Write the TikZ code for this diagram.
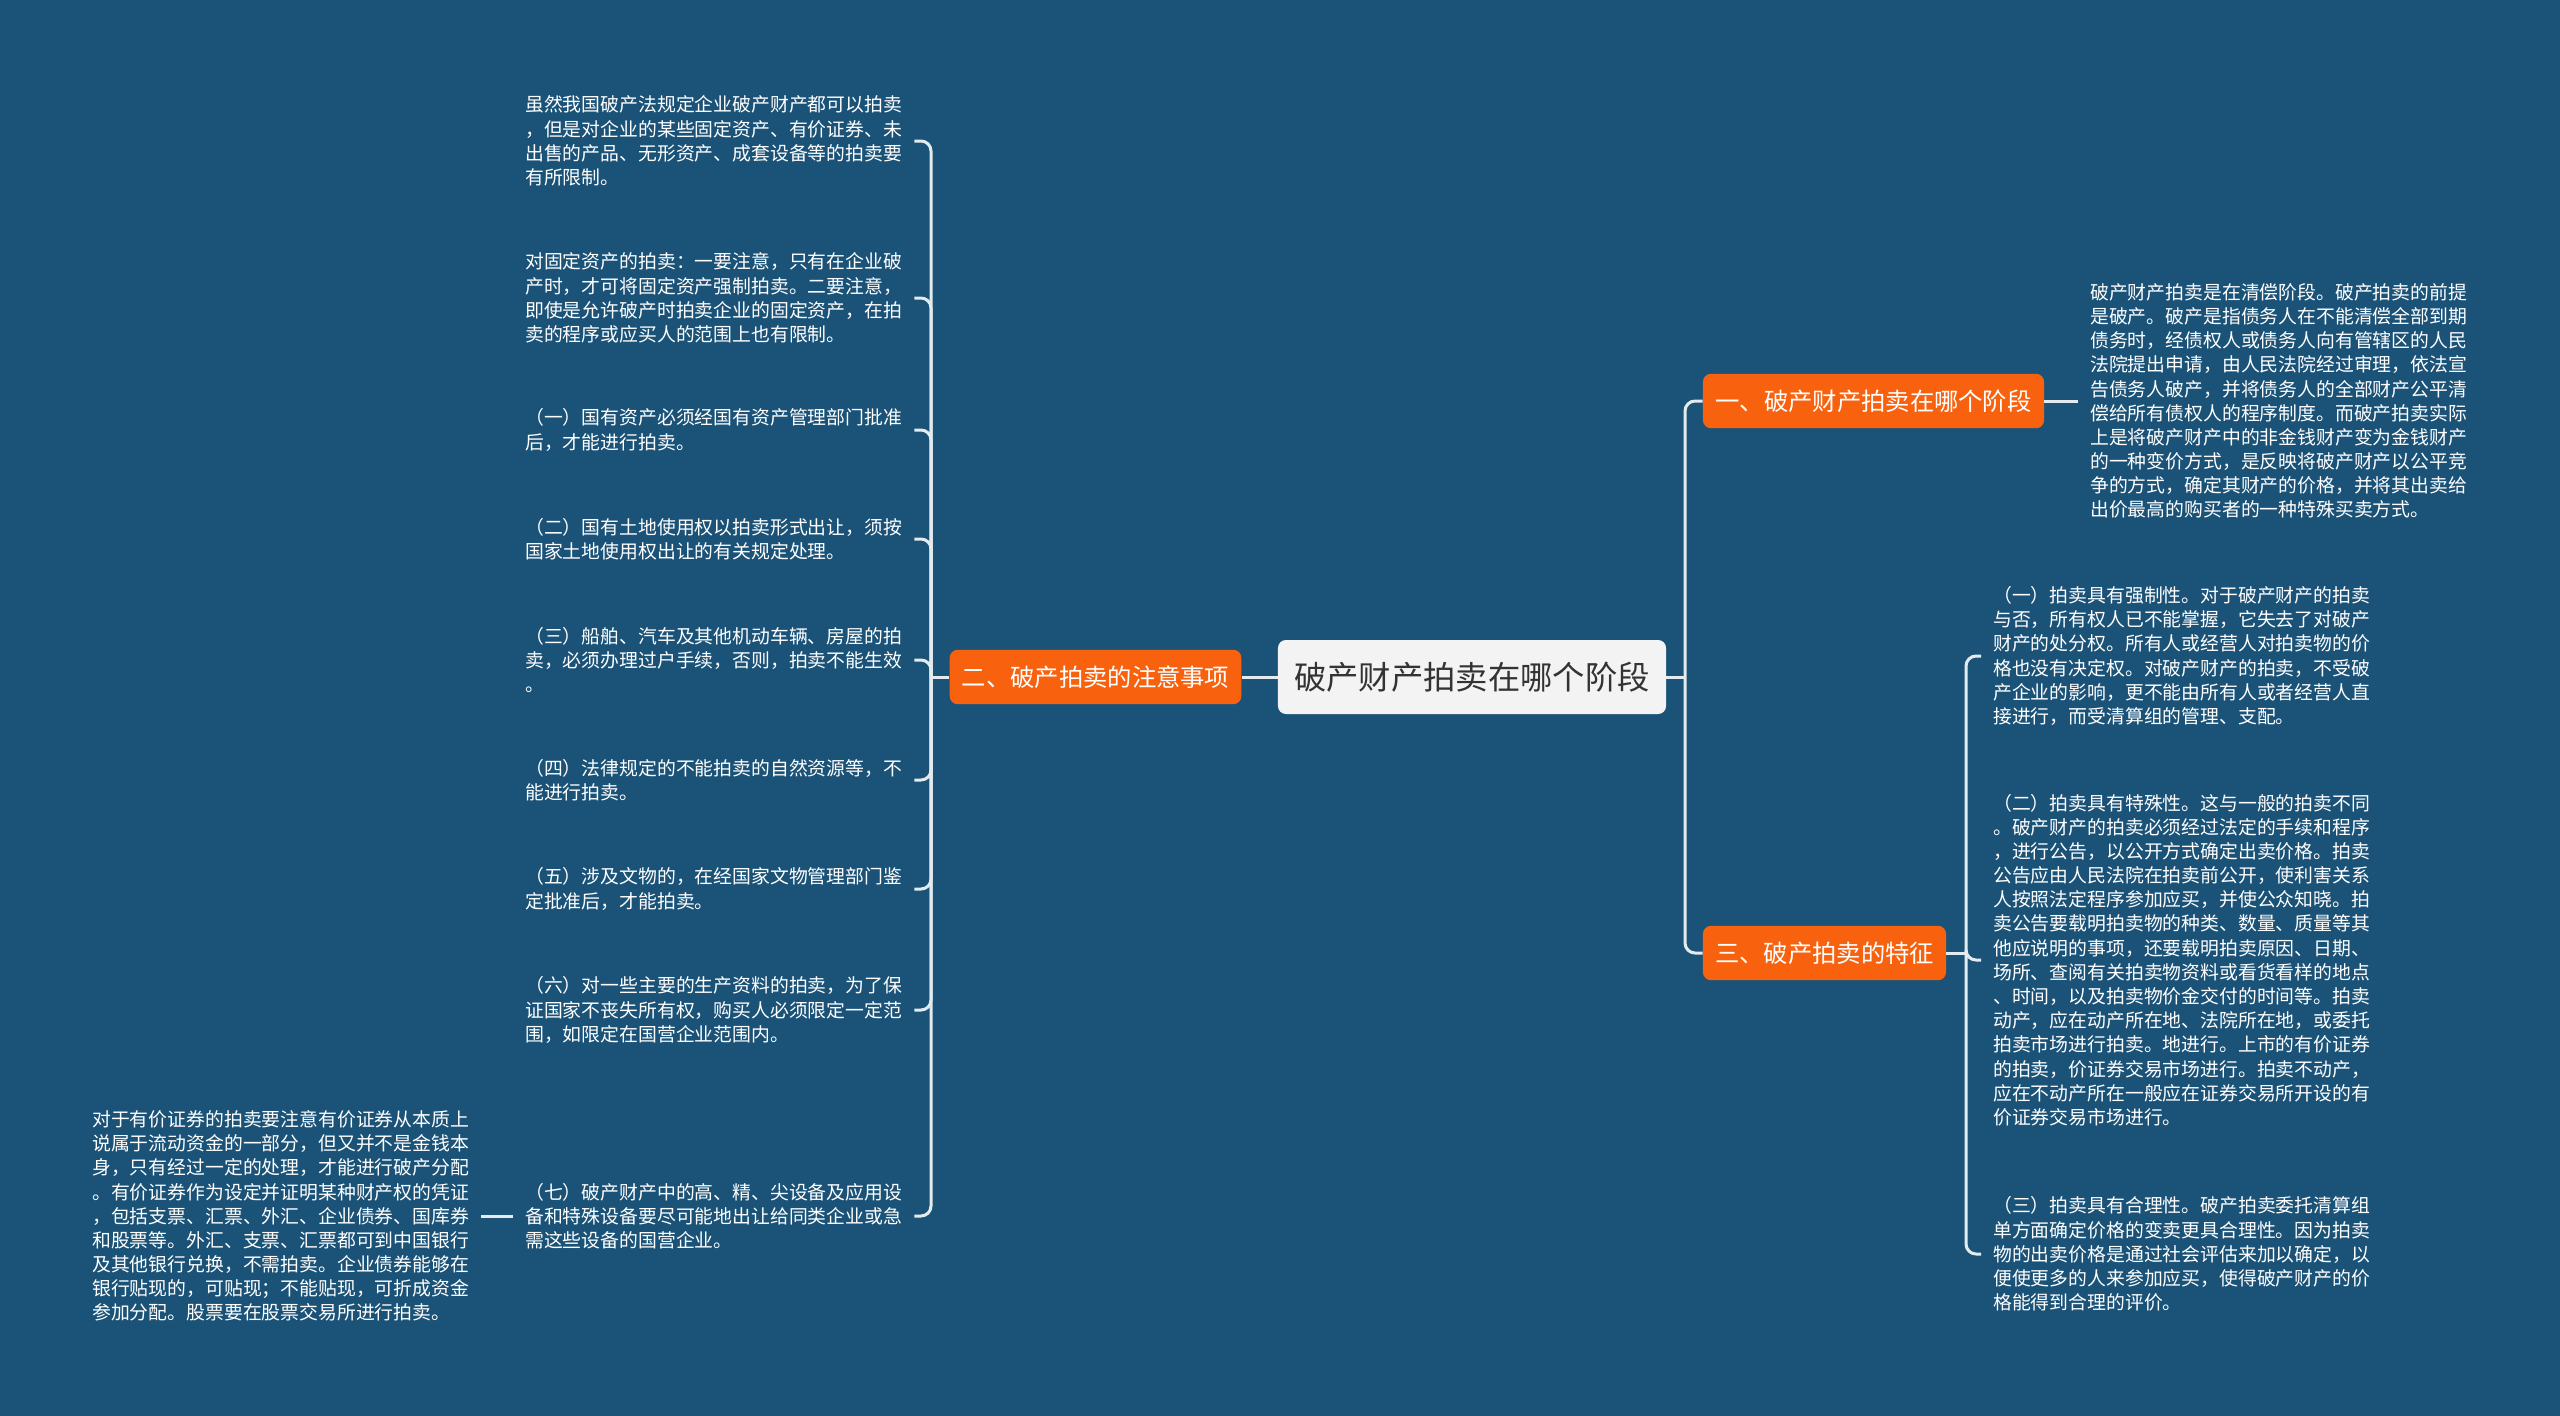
\documentclass[tikz,border=0pt]{standalone}
\usepackage{fontspec}
\setmainfont{Noto Sans CJK SC}
\usetikzlibrary{positioning}

\definecolor{bgblue}{HTML}{1B5378}
\definecolor{tagorange}{HTML}{F8620F}
\definecolor{rootgrey}{HTML}{F3F3F3}
\definecolor{linewhite}{HTML}{E4EBEF}

\tikzset{
  link/.style={draw=linewhite, line width=0.075cm, rounded corners=0.25cm},
  leaf/.style={text=white, align=left, inner xsep=0.3cm, inner ysep=0pt,
               font=\fontsize{13.4}{17.2}\selectfont},
  topic/.style={fill=tagorange, text=white, rounded corners=0.2cm, minimum height=1.36cm,
                inner xsep=0.3cm, font=\fontsize{17.3}{20}\selectfont},
  rootbox/.style={fill=rootgrey, text=black!80, rounded corners=0.2cm, minimum width=9.7cm,
                  minimum height=1.85cm, font=\fontsize{23}{26}\selectfont}
}

\begin{document}
\begin{tikzpicture}[x=0.025cm, y=-0.025cm]

  \useasboundingbox (0, 0) rectangle (2560, 1415);
  \fill[bgblue] (-10, -10) rectangle (2570, 1425);

  \node[rootbox] (root) at (1472, 677) {破产财产拍卖在哪个阶段};

  \node[topic, minimum width=7.275cm] (two) at (1095.5, 677) {二、破产拍卖的注意事项};
  \node[topic, minimum width=8.525cm] (one) at (1873.5, 401) {一、破产财产拍卖在哪个阶段};
  \node[topic, minimum width=6.075cm] (three) at (1824.5, 953) {三、破产拍卖的特征};

  \coordinate (rspine) at (1685, 677);
  \coordinate (lspine) at (931, 677);
  \coordinate (tspine) at (1966, 953);

  \draw[link] (root.west) -- (two.east);
  \draw[link] (root.east) -- (rspine);
  \draw[link] (rspine) |- (one.west);
  \draw[link] (rspine) |- (three.west);

  \node[leaf, anchor=west] (onetxt) at (2078, 401) {破产财产拍卖是在清偿阶段。破产拍卖的前提\\是破产。破产是指债务人在不能清偿全部到期\\债务时，经债权人或债务人向有管辖区的人民\\法院提出申请，由人民法院经过审理，依法宣\\告债务人破产，并将债务人的全部财产公平清\\偿给所有债权人的程序制度。而破产拍卖实际\\上是将破产财产中的非金钱财产变为金钱财产\\的一种变价方式，是反映将破产财产以公平竞\\争的方式，确定其财产的价格，并将其出卖给\\出价最高的购买者的一种特殊买卖方式。};
  \draw[link] (one.east) -- (onetxt.west);

  \draw[link] (two.west) -- (lspine);
  \foreach \y/\txt [count=\i] in {
      {141}/{虽然我国破产法规定企业破产财产都可以拍卖\\，但是对企业的某些固定资产、有价证券、未\\出售的产品、无形资产、成套设备等的拍卖要\\有所限制。},
      {298}/{对固定资产的拍卖：一要注意，只有在企业破\\产时，才可将固定资产强制拍卖。二要注意，\\即使是允许破产时拍卖企业的固定资产，在拍\\卖的程序或应买人的范围上也有限制。},
      {430}/{（一）国有资产必须经国有资产管理部门批准\\后，才能进行拍卖。},
      {539}/{（二）国有土地使用权以拍卖形式出让，须按\\国家土地使用权出让的有关规定处理。},
      {660}/{（三）船舶、汽车及其他机动车辆、房屋的拍\\卖，必须办理过户手续，否则，拍卖不能生效\\。},
      {780}/{（四）法律规定的不能拍卖的自然资源等，不\\能进行拍卖。},
      {889}/{（五）涉及文物的，在经国家文物管理部门鉴\\定批准后，才能拍卖。},
      {1010}/{（六）对一些主要的生产资料的拍卖，为了保\\证国家不丧失所有权，购买人必须限定一定范\\围，如限定在国营企业范围内。},
      {1216}/{（七）破产财产中的高、精、尖设备及应用设\\备和特殊设备要尽可能地出让给同类企业或急\\需这些设备的国营企业。}} {
    \node[leaf, anchor=west] (att\i) at (513, \y) {\txt};
    \draw[link] (lspine) |- (att\i.east);
  }

  \node[leaf, anchor=west] (bond) at (80, 1216) {对于有价证券的拍卖要注意有价证券从本质上\\说属于流动资金的一部分，但又并不是金钱本\\身，只有经过一定的处理，才能进行破产分配\\。有价证券作为设定并证明某种财产权的凭证\\，包括支票、汇票、外汇、企业债券、国库券\\和股票等。外汇、支票、汇票都可到中国银行\\及其他银行兑换，不需拍卖。企业债券能够在\\银行贴现的，可贴现；不能贴现，可折成资金\\参加分配。股票要在股票交易所进行拍卖。};
  \draw[link] (att9.west) -- (bond.east);

  \draw[link] (three.east) -- (tspine);
  \foreach \y/\txt [count=\i] in {
      {656}/{（一）拍卖具有强制性。对于破产财产的拍卖\\与否，所有权人已不能掌握，它失去了对破产\\财产的处分权。所有人或经营人对拍卖物的价\\格也没有决定权。对破产财产的拍卖，不受破\\产企业的影响，更不能由所有人或者经营人直\\接进行，而受清算组的管理、支配。},
      {960}/{（二）拍卖具有特殊性。这与一般的拍卖不同\\。破产财产的拍卖必须经过法定的手续和程序\\，进行公告，以公开方式确定出卖价格。拍卖\\公告应由人民法院在拍卖前公开，使利害关系\\人按照法定程序参加应买，并使公众知晓。拍\\卖公告要载明拍卖物的种类、数量、质量等其\\他应说明的事项，还要载明拍卖原因、日期、\\场所、查阅有关拍卖物资料或看货看样的地点\\、时间，以及拍卖物价金交付的时间等。拍卖\\动产，应在动产所在地、法院所在地，或委托\\拍卖市场进行拍卖。地进行。上市的有价证券\\的拍卖，价证券交易市场进行。拍卖不动产，\\应在不动产所在一般应在证券交易所开设的有\\价证券交易市场进行。},
      {1254}/{（三）拍卖具有合理性。破产拍卖委托清算组\\单方面确定价格的变卖更具合理性。因为拍卖\\物的出卖价格是通过社会评估来加以确定，以\\便使更多的人来参加应买，使得破产财产的价\\格能得到合理的评价。}} {
    \node[leaf, anchor=west] (feat\i) at (1981, \y) {\txt};
    \draw[link] (tspine) |- (feat\i.west);
  }

\end{tikzpicture}
\end{document}
